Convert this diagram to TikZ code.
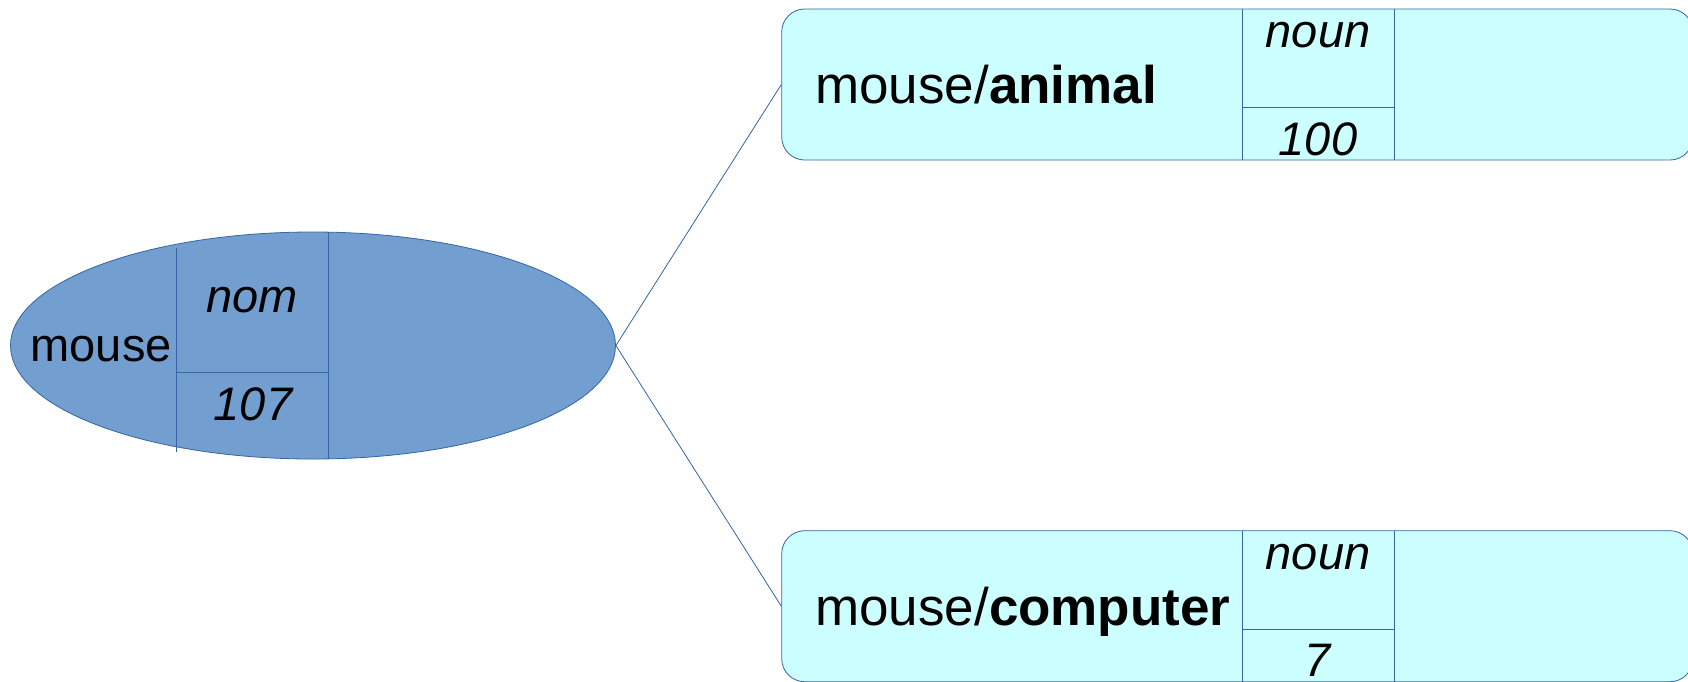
\documentclass[tikz,border=0pt]{standalone}
\usepackage{fontspec}
\setmainfont{Liberation Sans}
\usetikzlibrary{shapes.geometric}
\definecolor{ellfill}{HTML}{729FCF}
\definecolor{edgeblue}{HTML}{3465A4}
\definecolor{boxfill}{HTML}{CCFFFF}
\begin{document}
\begin{tikzpicture}[x=1pt,y=-1pt,
  rule/.style={draw=edgeblue, line width=0.8pt},
  sensebox/.style={rule, fill=boxfill, rounded corners=23pt, minimum width=911.3pt, minimum height=151pt, inner sep=0pt},
  rootell/.style={rule, ellipse, fill=ellfill, minimum width=605pt, minimum height=227pt, inner sep=0pt},
  txt/.style={inner sep=0pt, anchor=base, font=\fontsize{47pt}{52pt}\selectfont},
  itxt/.style={txt, font=\fontsize{47pt}{52pt}\selectfont\itshape},
  bigtxt/.style={inner sep=0pt, anchor=base west, font=\fontsize{53pt}{58pt}\selectfont}]
\useasboundingbox (0,0) rectangle (1688,681);
\clip (0,0) rectangle (1688,681);

% root ellipse
\node[rootell] (root) at (313,345.5) {};
\draw[rule] (176.7,247.6) -- (176.7,451.7);
\draw[rule] (328.3,232.2) -- (328.3,458.8);
\draw[rule] (176.7,372.7) -- (328.3,372.7);
\node[txt] (rootlabel) at (101.2,361.7) {mouse};
\node[itxt] (rootpos) at (252,312.7) {nom};
\node[itxt] (rootfreq) at (253,420.7) {107};

% sense boxes
\node[sensebox] (animal) at (1237.35,84.5) {};
\node[sensebox] (computer) at (1237.35,606.2) {};

\draw[rule] (1242.7,9) -- (1242.7,160);
\draw[rule] (1394.3,9) -- (1394.3,160);
\draw[rule] (1242.7,107.7) -- (1394.3,107.7);
\draw[rule] (1242.7,530.7) -- (1242.7,681.7);
\draw[rule] (1394.3,530.7) -- (1394.3,681.7);
\draw[rule] (1242.7,629.3) -- (1394.3,629.3);

\node[bigtxt] (animallabel) at (815,103.3) {mouse/\textbf{animal}};
\node[itxt] (animalpos) at (1318,47.6) {noun};
\node[itxt] (animalfreq) at (1318,155) {100};

\node[bigtxt] (computerlabel) at (815,625) {mouse/\textbf{computer}};
\node[itxt] (computerpos) at (1318,569.3) {noun};
\node[itxt] (computerfreq) at (1318,676.7) {7};

% connectors
\draw[rule] (root.east) -- (animal.west);
\draw[rule] (root.east) -- (computer.west);
\end{tikzpicture}
\end{document}
